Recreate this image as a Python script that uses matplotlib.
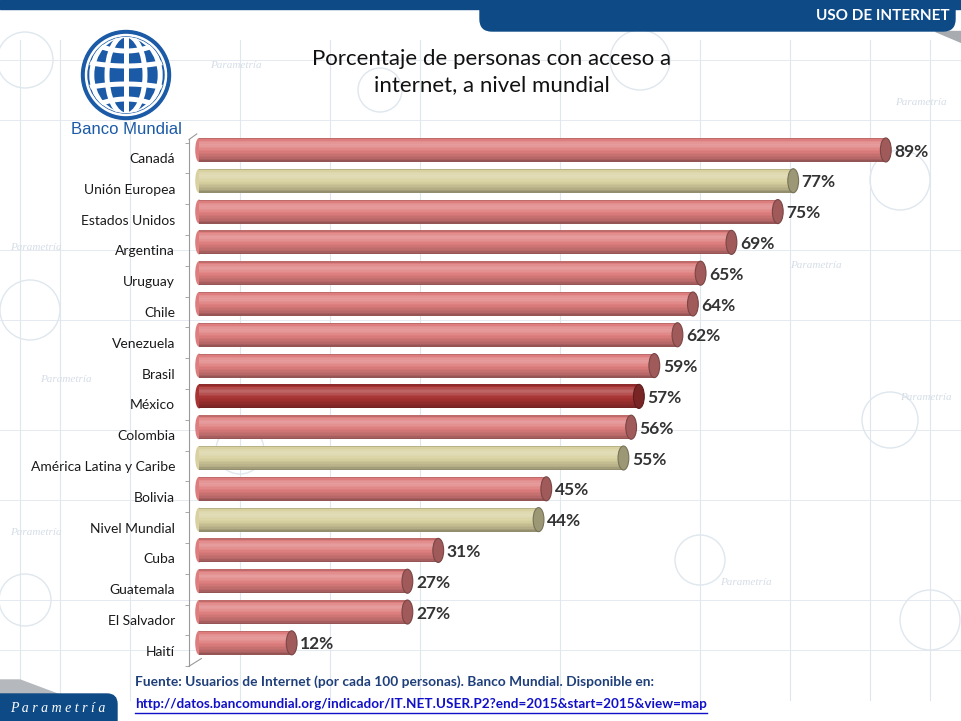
import numpy as np
import matplotlib.pyplot as plt
from matplotlib.patches import Ellipse, Circle, FancyBboxPatch, Rectangle, Polygon

paises = ['Canadá', 'Unión Europea', 'Estados Unidos', 'Argentina', 'Uruguay', 'Chile',
          'Venezuela', 'Brasil', 'México', 'Colombia', 'América Latina y Caribe', 'Bolivia',
          'Nivel Mundial', 'Cuba', 'Guatemala', 'El Salvador', 'Haití']
valores = [89, 77, 75, 69, 65, 64, 62, 59, 57, 56, 55, 45, 44, 31, 27, 27, 12]
# tipo de barra: p = país, r = región/agregado, m = México
tipo = ['p', 'r', 'p', 'p', 'p', 'p', 'p', 'p', 'm', 'p', 'r', 'p', 'r', 'p', 'p', 'p', 'p']

titulo = 'Porcentaje de personas con acceso a\ninternet, a nivel mundial'
fuente = 'Fuente: Usuarios de Internet (por cada 100 personas). Banco Mundial. Disponible en:'
liga = 'http://datos.bancomundial.org/indicador/IT.NET.USER.P2?end=2015&start=2015&view=map'

base = {'p': np.array([0.87, 0.49, 0.49]),
        'r': np.array([0.85, 0.82, 0.63]),
        'm': np.array([0.66, 0.20, 0.20])}

plt.rcParams['font.family'] = ['Lato', 'DejaVu Sans']

fig = plt.figure(figsize=(9.61, 7.21), dpi=100)

# ---- fondo (marca de agua, encabezado, logo) en coordenadas de pixel
bg = fig.add_axes([0, 0, 1, 1], zorder=0)
bg.set_xlim(0, 961)
bg.set_ylim(721, 0)
bg.axis('off')

wm = '#dfe7ee'
for x in [20, 60, 130, 240, 330, 420, 560, 700, 790, 870, 930]:
    bg.plot([x, x], [40, 700], color=wm, lw=0.8, zorder=0)
for y in [60, 120, 250, 320, 430, 500, 600, 650]:
    bg.plot([0, 961], [y, y], color=wm, lw=0.6, zorder=0)
for cx, cy, r in [(25, 60, 28), (30, 310, 30), (900, 180, 30), (890, 420, 28),
                  (930, 620, 30), (380, 90, 22), (700, 560, 25), (25, 600, 26),
                  (640, 60, 30), (240, 450, 24)]:
    bg.add_patch(Circle((cx, cy), r, fill=False, ec=wm, lw=1.0, zorder=0))
for x, y in [(40, 382), (10, 250), (790, 268), (900, 400), (895, 105), (10, 535),
             (720, 585), (210, 68)]:
    bg.text(x, y, 'Parametría', color='#d5dde6', fontsize=8, style='italic',
            family='Liberation Serif', zorder=0)

azul = '#0e4a85'
bg.add_patch(Rectangle((0, 0), 961, 9, color=azul, zorder=1))
bg.add_patch(Polygon([[935, 31], [961, 31], [961, 42]], color='#a8acb0', zorder=1))
bg.add_patch(FancyBboxPatch((480, -20), 475, 51, boxstyle='round,pad=0,rounding_size=12',
                            color=azul, zorder=2))
bg.text(950, 16, 'USO DE INTERNET', color='white', fontsize=11, fontweight='bold',
        ha='right', va='center', zorder=3)

bg.add_patch(Polygon([[0, 680], [20, 680], [60, 695], [0, 695]], color='#b5b9bd', zorder=1))
bg.add_patch(FancyBboxPatch((-20, 694), 137, 40, boxstyle='round,pad=0,rounding_size=10',
                            color=azul, zorder=2))
bg.text(58, 709, 'P a r a m e t r í a', color='white', fontsize=10, style='italic',
        family='Liberation Serif', ha='center', va='center', zorder=3)

# logo del Banco Mundial
cx, cy = 126, 75
azul_bm = '#1b5aa6'
bg.add_patch(Circle((cx, cy), 44.5, color=azul_bm, zorder=3))
bg.add_patch(Circle((cx, cy), 40.5, color='white', zorder=3))
bg.add_patch(Circle((cx, cy), 38, color=azul_bm, zorder=3))
clip = Circle((cx, cy), 38, transform=bg.transData)
lineas = []
lineas.append(bg.plot([cx, cx], [cy - 40, cy + 40], color='white', lw=3.6, zorder=4)[0])
for w in [0.5, 0.9]:
    e = Ellipse((cx, cy), 2 * 38 * w, 80, fill=False, ec='white', lw=3.6, zorder=4)
    bg.add_patch(e)
    lineas.append(e)
xs = np.linspace(cx - 40, cx + 40, 60)
for dy, k in [(-24, -0.007), (-9, -0.0025), (9, 0.0025), (24, 0.007)]:
    lineas.append(bg.plot(xs, cy + dy + k * (xs - cx) ** 2, color='white', lw=3.6, zorder=4)[0])
for l in lineas:
    l.set_clip_path(clip)
bg.text(cx, 130, 'Banco Mundial', color=azul_bm, fontsize=12, family='Liberation Sans',
        ha='center', va='center', zorder=4)

bg.text(492, 72, titulo, fontsize=16, ha='center', va='center', linespacing=1.4,
        color='#111111', zorder=4)

# ---- gráfica de barras
ax = fig.add_axes([0.1967, 0.0674, 0.770, 0.7434], zorder=2)
ax.patch.set_alpha(0)
y = np.arange(len(paises))
yb = y - 0.26          # las barras van algo arriba de su casilla (efecto 3D)
h = 0.78
n = 16
t = (np.arange(n) + 0.5) / n
perfil = np.interp(t, [0.0, 0.12, 0.3, 0.55, 0.85, 1.0], [0.78, 1.06, 1.16, 1.0, 0.82, 0.64])

def tono(c, f):
    if f > 1:
        return tuple(c + (1 - c) * (f - 1) * 1.6)
    return tuple(np.clip(c * f, 0, 1))

for i in range(n):
    off = -h / 2 + (i + 0.5) * h / n
    cols = [tono(base[k], perfil[i]) for k in tipo]
    ax.barh(yb + off, valores, height=h / n * 1.02, left=0, color=cols, linewidth=0, zorder=2)

for yi, v, k in zip(yb, valores, tipo):
    ax.add_patch(Ellipse((v, yi), 1.4, h, color=tono(base[k], 0.72),
                         ec=tono(base[k], 0.55), lw=0.8, zorder=3))
    ax.add_patch(Ellipse((0, yi), 1.0, h, color=tono(base[k], 1.0), lw=0, zorder=1.9))
    ax.text(v + 1.1, yi + 0.05, f'{v}%', ha='left', va='center', fontsize=12.5,
            fontweight='bold', color='#333333', zorder=4)

ax.set_xlim(-1.3, 94.6)
ax.set_ylim(16.7, -0.7)
for s in ['top', 'right', 'bottom']:
    ax.spines[s].set_visible(False)
ax.spines['left'].set_color('#9a9a9a')
ax.spines['left'].set_bounds(-0.6, 16.5)
ax.set_xticks([])
ax.set_yticks(y)
ax.set_yticklabels(paises, fontsize=10, color='#1a1a1a')
ax.set_yticks(np.arange(-0.5, len(paises)), minor=True)
ax.tick_params(axis='y', which='major', length=0, pad=10)
ax.tick_params(axis='y', which='minor', length=3, color='#9a9a9a', direction='out')
ax.plot([-1.3, 0.3], [16.5, 16.25], color='#9a9a9a', lw=0.8, clip_on=False)
ax.plot([-1.3, -0.3], [-0.6, -0.78], color='#9a9a9a', lw=0.8, clip_on=False)

# ---- fuente
bg.text(135, 682, fuente, fontsize=9.9, fontweight='bold', color='#1f3f7a',
        ha='left', va='center', zorder=4)
tl = bg.text(135, 704, liga, fontsize=9.7, fontweight='bold', color='#1010c8',
             ha='left', va='center', zorder=4)
fig.canvas.draw()
bb = tl.get_window_extent()
bg.plot([bb.x0, bb.x1], [713, 713], color='#1010c8', lw=1.0, zorder=4)

fig.savefig('out.png', dpi=100)
